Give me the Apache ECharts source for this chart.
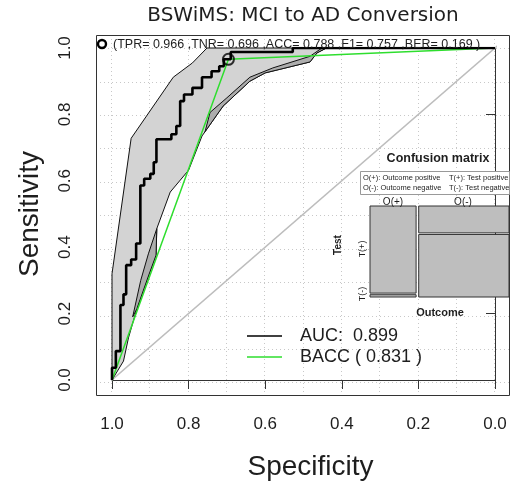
<!DOCTYPE html>
<html>
<head>
<meta charset="utf-8">
<script src="https://cdn.jsdelivr.net/npm/echarts@6/dist/echarts.min.js"></script>
<style>
html, body { margin: 0; padding: 0; background: #fff; }
#chart { width: 528px; height: 486px; }
</style>
</head>
<body>
<div id="chart"></div>
<script>
// ROC curve of the BSWiMS model, as (specificity, sensitivity) operating points
const rocPoints = [
  [1.000, 0.000], [1.000, 0.037], [0.990, 0.087], [0.978, 0.226], [0.970, 0.258],
  [0.963, 0.346], [0.950, 0.363], [0.937, 0.411], [0.926, 0.586], [0.916, 0.606],
  [0.900, 0.621], [0.891, 0.656], [0.884, 0.725], [0.845, 0.740], [0.832, 0.765],
  [0.822, 0.840], [0.812, 0.860], [0.790, 0.880], [0.765, 0.912], [0.740, 0.930],
  [0.720, 0.945], [0.708, 0.966], [0.690, 0.988], [0.528, 1.000], [0.000, 1.000]
];

// confidence band of sensitivity: upper edge (1,0) -> (0,1), lower edge back again
const ciUpper = [
  [1.000, 0.000], [1.000, 0.320], [0.950, 0.728], [0.840, 0.912],
  [0.790, 0.955], [0.752, 1.000], [0.000, 1.000]
];
const ciLower = [
  [0.440, 1.000], [0.465, 0.985], [0.483, 0.958], [0.600, 0.925], [0.640, 0.900],
  [0.710, 0.825], [0.757, 0.748], [0.765, 0.735], [0.800, 0.632], [0.848, 0.566],
  [0.883, 0.456], [0.885, 0.376], [0.904, 0.316], [0.935, 0.215], [0.957, 0.127],
  [0.970, 0.057], [1.000, 0.000]
];

// overlapping parts of the band (drawn darker)
const ciOverlapHigh = [
  [0.440, 1.000], [0.465, 0.985], [0.483, 0.958], [0.600, 0.925], [0.640, 0.900],
  [0.710, 0.825], [0.757, 0.748], [0.744, 0.806], [0.700, 0.850], [0.640, 0.912],
  [0.580, 0.940], [0.483, 0.975], [0.452, 1.000]
];
const ciOverlapLow = [
  [0.883, 0.456], [0.885, 0.376], [0.904, 0.316], [0.935, 0.215], [0.946, 0.190],
  [0.925, 0.300], [0.905, 0.380]
];

// balanced-accuracy operating line and the chosen cut-off
const baccPoints = [[1.000, 0.000], [0.696, 0.966], [0.000, 1.000]];
const cutoffPoint = [[0.696, 0.966]];
// chance diagonal, running corner to corner of the plot frame
const chancePoints = [[1.04, -0.04], [-0.04, 1.04]];

// dotted reference grid positions (both axes)
const gridLineValues = [0, 0.1, 0.2, 0.3, 0.4, 0.5, 0.6, 0.7, 0.8, 0.9, 1.0];

const metricNames = ['TPR', 'TNR', 'ACC', 'F1', 'BER'];
const metricValues = [0.966, 0.696, 0.788, 0.757, 0.169];
const aucValue = 0.899;
const baccValue = 0.831;

// confusion-matrix mosaic: share of each outcome and share of positive tests within it
const outcomeLabels = ['O(+)', 'O(-)'];
const outcomeShare = [0.341, 0.659];
const testPositiveShare = [0.966, 0.304];

const FONT = 'Liberation Sans, Arial, sans-serif';
const TEXT = '#1e1e1e';

const aucName = 'AUC:  ' + aucValue.toFixed(3);
const baccName = 'BACC ( ' + baccValue.toFixed(3) + ' )';
const metricText = '(' + metricNames.map((n, i) => n + '= ' + metricValues[i].toFixed(3)).join(' ,') + ' )';

// mosaic cells [x0, x1, y0, y1] in unit square, T(+) on top of each column
const mosaicCells = [];
let cum = 0;
outcomeShare.forEach((w, j) => {
  const split = 1 - testPositiveShare[j];
  mosaicCells.push([cum, cum + w, split, 1]);
  mosaicCells.push([cum, cum + w, 0, split]);
  cum += w;
});

function polygonSeries(points, fill, z) {
  return {
    type: 'custom', xAxisIndex: 0, yAxisIndex: 0, z: z, silent: true,
    data: points,
    renderItem: function (params, api) {
      if (params.dataIndex !== 0) return null;
      return {
        type: 'polygon',
        shape: { points: points.map(p => api.coord(p)) },
        style: { fill: fill, stroke: '#111', lineWidth: 1 }
      };
    }
  };
}

const gridDots = { color: '#c8c8c8', type: [1, 3], width: 1 };

const valueAxisBase = {
  type: 'value', min: 0, max: 1, interval: 0.2,
  axisLine: { show: true, lineStyle: { color: '#333', width: 1 } },
  axisTick: { show: true, inside: false, length: 9, lineStyle: { color: '#333', width: 1 } },
  axisLabel: { fontFamily: FONT, fontSize: 17, color: TEXT, formatter: v => v.toFixed(1) },
  splitLine: { show: false },
  nameLocation: 'middle'
};

// axis spanning the whole plot frame, used only for the dotted grid
const frameAxis = (gridIndex, inverse) => ({
  type: 'value', gridIndex: gridIndex, min: -0.04, max: 1.04, inverse: inverse,
  axisLine: { show: false }, axisLabel: { show: false },
  axisTick: { show: false, customValues: gridLineValues },
  splitLine: { show: true, lineStyle: gridDots }
});

const chart = echarts.init(document.getElementById('chart'), null, { renderer: 'canvas' });

chart.setOption({
  animation: false,
  backgroundColor: '#fff',
  title: {
    text: 'BSWiMS: MCI to AD Conversion',
    left: 303, textAlign: 'center', top: 6, padding: 0,
    textStyle: { fontFamily: 'DejaVu Sans', fontSize: 20, fontWeight: 'normal', color: TEXT }
  },
  grid: [
    { left: 112, top: 48, width: 383, height: 334 },
    { left: 370, top: 206, width: 139, height: 91 },
    { left: 96, top: 35, width: 414, height: 361 }
  ],
  xAxis: [
    Object.assign({}, valueAxisBase, {
      gridIndex: 0, inverse: true, offset: 14,
      axisLabel: Object.assign({}, valueAxisBase.axisLabel, { margin: 22 }),
      name: 'Specificity', nameGap: 59,
      nameTextStyle: { fontFamily: FONT, fontSize: 28, color: TEXT, padding: [0, 0, 0, 14] }
    }),
    { type: 'value', gridIndex: 1, min: 0, max: 1, show: false },
    frameAxis(2, true)
  ],
  yAxis: [
    Object.assign({}, valueAxisBase, {
      gridIndex: 0, offset: 16,
      axisLabel: Object.assign({}, valueAxisBase.axisLabel, { margin: 22, rotate: 90 }),
      name: 'Sensitivity', nameGap: 52,
      nameTextStyle: { fontFamily: FONT, fontSize: 28, color: TEXT }
    }),
    { type: 'value', gridIndex: 1, min: 0, max: 1, show: false },
    frameAxis(2, false)
  ],
  legend: {
    orient: 'vertical', left: 247, top: 327, itemGap: 3, padding: 0,
    itemWidth: 35, itemHeight: 1.5, icon: 'rect',
    selectedMode: false,
    textStyle: { fontFamily: FONT, fontSize: 18, color: TEXT, lineHeight: 18, padding: [0, 0, 0, 13] },
    data: [aucName, baccName]
  },
  series: [
    {
      type: 'line', data: chancePoints, clip: false, showSymbol: false, silent: true, z: 1,
      lineStyle: { color: '#bdbdbd', width: 1.5 }
    },
    polygonSeries(ciUpper.concat(ciLower), '#d3d3d3', 2),
    polygonSeries(ciOverlapHigh, '#adadad', 3),
    polygonSeries(ciOverlapLow, '#adadad', 3),
    {
      name: baccName, type: 'line', data: baccPoints, showSymbol: false, z: 4,
      itemStyle: { color: '#2ede2e' },
      lineStyle: { color: '#2ede2e', width: 1.5 }
    },
    {
      // horizontal run first, then the rise to the next operating point
      name: aucName, type: 'line', data: rocPoints, step: 'end', showSymbol: false, z: 5,
      itemStyle: { color: '#000' },
      lineStyle: { color: '#000', width: 2.6 }
    },
    {
      type: 'scatter', data: cutoffPoint, symbol: 'circle', symbolSize: 11, z: 6, silent: true,
      itemStyle: { color: 'rgba(0,0,0,0)', borderColor: '#000', borderWidth: 2 }
    },
    {
      type: 'custom', xAxisIndex: 1, yAxisIndex: 1, data: mosaicCells, silent: true, z: 6,
      renderItem: function (params, api) {
        const x0 = api.value(0), x1 = api.value(1), y0 = api.value(2), y1 = api.value(3);
        const tl = api.coord([x0, y1]);
        const br = api.coord([x1, y0]);
        const gx = 1.3, gy = 0.8;
        const left = tl[0] + (x0 > 0 ? gx : 0);
        const right = br[0] - (x1 < 1 ? gx : 0);
        const top = tl[1] + (y1 < 1 ? gy : 0);
        const bottom = br[1] - (y0 > 0 ? gy : 0);
        return {
          type: 'rect',
          shape: { x: left, y: top, width: right - left, height: Math.max(bottom - top, 0.5) },
          style: { fill: '#bebebe', stroke: '#333', lineWidth: 1 }
        };
      }
    }
  ],
  graphic: [
    // plot frame
    { type: 'rect', shape: { x: 96.5, y: 35.5, width: 413, height: 360 }, z: 100,
      style: { fill: null, stroke: '#333', lineWidth: 1 } },
    // cut-off legend entry
    { type: 'circle', shape: { cx: 102, cy: 44, r: 4 }, z: 100,
      style: { fill: null, stroke: '#000', lineWidth: 2.4 } },
    { type: 'text', x: 113, y: 45, z: 100,
      style: { text: metricText, font: '12.5px ' + FONT, fill: TEXT, verticalAlign: 'middle' } },
    // confusion matrix panel
    { type: 'text', x: 438, y: 159, z: 100,
      style: { text: 'Confusion matrix', font: 'bold 12.5px ' + FONT, fill: TEXT, align: 'center', verticalAlign: 'middle' } },
    { type: 'rect', shape: { x: 360.5, y: 171.5, width: 149, height: 23 }, z: 100,
      style: { fill: '#fff', stroke: '#999', lineWidth: 1 } },
    { type: 'text', x: 363, y: 177.5, z: 101,
      style: { text: 'O(+): Outcome positive', font: '7.5px ' + FONT, fill: TEXT, verticalAlign: 'middle' } },
    { type: 'text', x: 363, y: 187.5, z: 101,
      style: { text: 'O(-): Outcome negative', font: '7.5px ' + FONT, fill: TEXT, verticalAlign: 'middle' } },
    { type: 'text', x: 449, y: 177.5, z: 101,
      style: { text: 'T(+): Test positive', font: '7.5px ' + FONT, fill: TEXT, verticalAlign: 'middle' } },
    { type: 'text', x: 449, y: 187.5, z: 101,
      style: { text: 'T(-): Test negative', font: '7.5px ' + FONT, fill: TEXT, verticalAlign: 'middle' } },
    { type: 'text', x: 393, y: 202, z: 101,
      style: { text: outcomeLabels[0], font: '10px ' + FONT, fill: TEXT, align: 'center', verticalAlign: 'middle' } },
    { type: 'text', x: 463, y: 202, z: 101,
      style: { text: outcomeLabels[1], font: '10px ' + FONT, fill: TEXT, align: 'center', verticalAlign: 'middle' } },
    { type: 'text', x: 338, y: 245, rotation: Math.PI / 2, z: 101,
      style: { text: 'Test', font: 'bold 10px ' + FONT, fill: TEXT, align: 'center', verticalAlign: 'middle' } },
    { type: 'text', x: 363, y: 249, rotation: Math.PI / 2, z: 101,
      style: { text: 'T(+)', font: '9px ' + FONT, fill: TEXT, align: 'center', verticalAlign: 'middle' } },
    { type: 'text', x: 363, y: 294, rotation: Math.PI / 2, z: 101,
      style: { text: 'T(-)', font: '9px ' + FONT, fill: TEXT, align: 'center', verticalAlign: 'middle' } },
    { type: 'text', x: 440, y: 313, z: 101,
      style: { text: 'Outcome', font: 'bold 11px ' + FONT, fill: TEXT, align: 'center', verticalAlign: 'middle' } }
  ]
});
</script>
</body>
</html>
